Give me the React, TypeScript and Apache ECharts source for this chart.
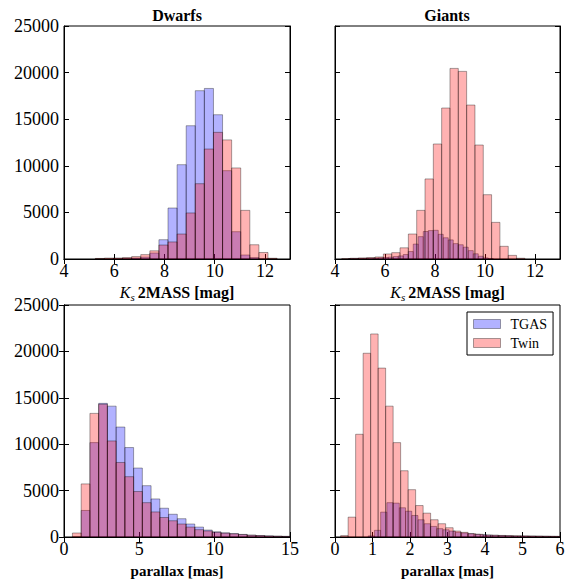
import React, { useEffect, useRef } from "react";
import * as echarts from "echarts";

// ---------- data ----------
// Top-left: Dwarfs, Ks 2MASS histogram (shared bins)
const DW_KS_START = 5.246;
const DW_KS_WIDTH = 0.362;
const DW_KS_TWIN = [60, 100, 110, 160, 260, 470, 880, 1500, 1830, 2680, 4940, 8080, 11800, 13590, 12780, 9770, 5220, 1530, 700, 80];
const DW_KS_TGAS = [0, 0, 30, 60, 100, 200, 640, 2070, 5470, 10120, 14300, 18060, 18300, 15480, 9480, 2930, 430, 150, 20, 0];

// Top-right: Giants, Ks 2MASS
const GI_KS_TWIN_START = 4.27;
const GI_KS_TWIN_WIDTH = 0.333;
const GI_KS_TWIN = [50, 80, 120, 160, 220, 540, 680, 1200, 2680, 5220, 8590, 12340, 16200, 20450, 20130, 16520, 12230, 6900, 3930, 1360, 390, 80];
const GI_KS_TGAS_START = 4.53;
const GI_KS_TGAS_WIDTH = 0.2;
const GI_KS_TGAS = [30, 40, 50, 60, 80, 100, 130, 160, 200, 260, 330, 480, 800, 1600, 2400, 2950, 3050, 3080, 2650, 2280, 2050, 1650, 1530, 1270, 900, 560, 300, 120, 40];

// Bottom-left: Dwarfs, parallax (shared bins)
const DW_PLX_START = 0.56;
const DW_PLX_WIDTH = 0.58;
const DW_PLX_TWIN = [430, 5720, 13320, 14300, 10350, 8030, 6500, 4900, 3700, 2700, 2100, 1750, 1400, 1070, 790, 650, 500, 410, 340, 260, 190, 150, 110, 80, 60];
const DW_PLX_TGAS = [0, 2860, 10170, 14400, 14100, 11850, 9640, 7430, 5530, 4100, 3100, 2450, 1970, 1400, 1070, 750, 560, 450, 370, 280, 200, 160, 120, 90, 70];

// Bottom-right: Giants, parallax
const GI_PLX_TWIN_START = 0.15;
const GI_PLX_TWIN_WIDTH = 0.2;
const GI_PLX_TWIN = [150, 2140, 11070, 19800, 21880, 18200, 14100, 10170, 7140, 5100, 3390, 2570, 1860, 1430, 1000, 640, 500, 360, 290, 210, 190, 170, 150, 130, 120, 110, 100, 90, 80, 70];
const GI_PLX_TGAS_START = 0.885;
const GI_PLX_TGAS_WIDTH = 0.166;
const GI_PLX_TGAS = [120, 720, 2680, 3700, 3650, 3150, 2780, 2320, 1860, 1430, 1140, 900, 780, 640, 500, 430, 360, 290, 250, 210, 180, 160, 140, 120, 110, 100, 90, 80, 70, 60, 50];

const KS_TICKS = [4, 6, 8, 10, 12];
const TITLES = ["Dwarfs", "Giants"];
const SERIES_NAMES = ["TGAS", "Twin"];

// ---------- styling ----------
const FONT = "Liberation Serif";
const BLUE = "rgba(0,0,255,0.3)";
const RED = "rgba(255,0,0,0.3)";
const EDGE = "rgba(0,0,0,0.35)";

const GRIDS = [
  { left: 64, top: 26, width: 226, height: 233 },
  { left: 335, top: 26, width: 225, height: 233 },
  { left: 64, top: 305, width: 226, height: 232 },
  { left: 335, top: 305, width: 225, height: 232 },
];

function binData(start: number, width: number, vals: number[]) {
  return vals.map((v, i) => [start + i * width, start + (i + 1) * width, v]);
}

function histSeries(name: string, color: string, gi: number, data: number[][]) {
  return {
    type: "custom",
    name,
    xAxisIndex: gi * 2,
    yAxisIndex: gi * 2,
    clip: true,
    itemStyle: { color, borderColor: EDGE, borderWidth: 1 },
    encode: { x: [0, 1], y: 2 },
    data,
    renderItem: (params: any, api: any) => {
      const x0 = api.value(0);
      const x1 = api.value(1);
      const y = api.value(2);
      const p0 = api.coord([x0, y]);
      const p1 = api.coord([x1, 0]);
      return {
        type: "rect",
        shape: { x: p0[0], y: p0[1], width: p1[0] - p0[0], height: p1[1] - p0[1] },
        style: { fill: color, stroke: EDGE, lineWidth: 1 },
      };
    },
  };
}

const ksName = "{k|K}{s|s} {b|2MASS [mag]}";
const ksRich = {
  k: { fontFamily: FONT, fontStyle: "italic", fontSize: 16, color: "#000", lineHeight: 20 },
  s: { fontFamily: FONT, fontStyle: "italic", fontSize: 11, color: "#000", verticalAlign: "bottom", lineHeight: 14 },
  b: { fontFamily: FONT, fontWeight: "bold", fontSize: 16, color: "#000", lineHeight: 20 },
};

export default function App() {
  const ref = useRef<HTMLDivElement>(null);

  useEffect(() => {
    if (!ref.current) return;
    const chart = echarts.init(ref.current, undefined, { renderer: "svg" });

    const xRanges = [
      { min: 4, max: 13, interval: 2, custom: KS_TICKS },
      { min: 4, max: 13, interval: 2, custom: KS_TICKS },
      { min: 0, max: 15, interval: 5, custom: null },
      { min: 0, max: 6, interval: 1, custom: null },
    ];

    const xAxis: any[] = [];
    const yAxis: any[] = [];
    GRIDS.forEach((_, gi) => {
      const r = xRanges[gi];
      const isTop = gi < 2;
      const showY = gi % 2 === 0;
      const tickBase: any = { show: true, inside: true, length: 5, lineStyle: { color: "#000", width: 1 } };
      const bottomTick = r.custom ? { ...tickBase, customValues: r.custom } : tickBase;
      xAxis.push({
        type: "value",
        gridIndex: gi,
        position: "bottom",
        min: r.min,
        max: r.max,
        interval: r.interval,
        axisLine: { show: true, lineStyle: { color: "#000", width: 1 } },
        axisTick: bottomTick,
        splitLine: { show: false },
        axisLabel: {
          show: true,
          color: "#000",
          fontFamily: FONT,
          fontSize: 18,
          margin: 3,
          hideOverlap: false,
          showMinLabel: true,
          showMaxLabel: true,
          formatter: (v: number) => String(v),
          ...(r.custom ? { customValues: r.custom } : {}),
        },
        name: isTop ? ksName : "parallax [mas]",
        nameLocation: "middle",
        nameGap: isTop ? 23 : 26,
        nameTextStyle: isTop
          ? { rich: ksRich }
          : { fontFamily: FONT, fontWeight: "bold", fontSize: 15, color: "#000" },
      });
      xAxis.push({
        type: "value",
        gridIndex: gi,
        position: "top",
        min: r.min,
        max: r.max,
        interval: r.interval,
        axisLine: { show: true, lineStyle: { color: "#000", width: 1 } },
        axisTick: bottomTick,
        axisLabel: { show: false },
        splitLine: { show: false },
      });
      yAxis.push({
        type: "value",
        gridIndex: gi,
        position: "left",
        min: 0,
        max: 25000,
        interval: 5000,
        axisLine: { show: true, lineStyle: { color: "#000", width: 1 } },
        axisTick: tickBase,
        splitLine: { show: false },
        axisLabel: {
          show: showY,
          color: "#000",
          fontFamily: FONT,
          fontSize: 18,
          margin: 5,
          showMinLabel: true,
          showMaxLabel: true,
          formatter: (v: number) => String(v),
        },
      });
      yAxis.push({
        type: "value",
        gridIndex: gi,
        position: "right",
        min: 0,
        max: 25000,
        interval: 5000,
        axisLine: { show: true, lineStyle: { color: "#000", width: 1 } },
        axisTick: tickBase,
        splitLine: { show: false },
        axisLabel: { show: false },
      });
    });

    const series = [
      histSeries(SERIES_NAMES[0], BLUE, 0, binData(DW_KS_START, DW_KS_WIDTH, DW_KS_TGAS)),
      histSeries(SERIES_NAMES[1], RED, 0, binData(DW_KS_START, DW_KS_WIDTH, DW_KS_TWIN)),
      histSeries(SERIES_NAMES[0], BLUE, 1, binData(GI_KS_TGAS_START, GI_KS_TGAS_WIDTH, GI_KS_TGAS)),
      histSeries(SERIES_NAMES[1], RED, 1, binData(GI_KS_TWIN_START, GI_KS_TWIN_WIDTH, GI_KS_TWIN)),
      histSeries(SERIES_NAMES[0], BLUE, 2, binData(DW_PLX_START, DW_PLX_WIDTH, DW_PLX_TGAS)),
      histSeries(SERIES_NAMES[1], RED, 2, binData(DW_PLX_START, DW_PLX_WIDTH, DW_PLX_TWIN)),
      histSeries(SERIES_NAMES[0], BLUE, 3, binData(GI_PLX_TGAS_START, GI_PLX_TGAS_WIDTH, GI_PLX_TGAS)),
      histSeries(SERIES_NAMES[1], RED, 3, binData(GI_PLX_TWIN_START, GI_PLX_TWIN_WIDTH, GI_PLX_TWIN)),
    ];

    chart.setOption({
      animation: false,
      backgroundColor: "#fff",
      textStyle: { fontFamily: FONT },
      grid: GRIDS.map((g) => ({ ...g, show: true, borderColor: "#000", borderWidth: 1, backgroundColor: "transparent" })),
      xAxis,
      yAxis,
      series,
      legend: {
        orient: "vertical",
        left: 467,
        top: 312,
        selectedMode: false,
        itemWidth: 27,
        itemHeight: 9,
        itemGap: 5,
        padding: [5, 6, 5, 6],
        borderColor: "#000",
        borderWidth: 1,
        backgroundColor: "#fff",
        textStyle: { fontFamily: FONT, fontSize: 14, color: "#000", padding: [0, 0, 0, 5] },
        data: [
          { name: SERIES_NAMES[0], icon: "rect", itemStyle: { color: BLUE, borderColor: EDGE, borderWidth: 1 } },
          { name: SERIES_NAMES[1], icon: "rect", itemStyle: { color: RED, borderColor: EDGE, borderWidth: 1 } },
        ],
      },
      graphic: [
        {
          type: "text",
          x: 177,
          y: 15,
          style: { text: TITLES[0], fontFamily: FONT, fontWeight: "bold", fontSize: 16, fill: "#000", align: "center", verticalAlign: "middle" },
        },
        {
          type: "text",
          x: 447,
          y: 15,
          style: { text: TITLES[1], fontFamily: FONT, fontWeight: "bold", fontSize: 16, fill: "#000", align: "center", verticalAlign: "middle" },
        },
      ],
    });

    return () => chart.dispose();
  }, []);

  return (
    <div
      ref={ref}
      style={{ position: "fixed", left: 0, top: 0, width: 569, height: 581, background: "#fff" }}
    />
  );
}
